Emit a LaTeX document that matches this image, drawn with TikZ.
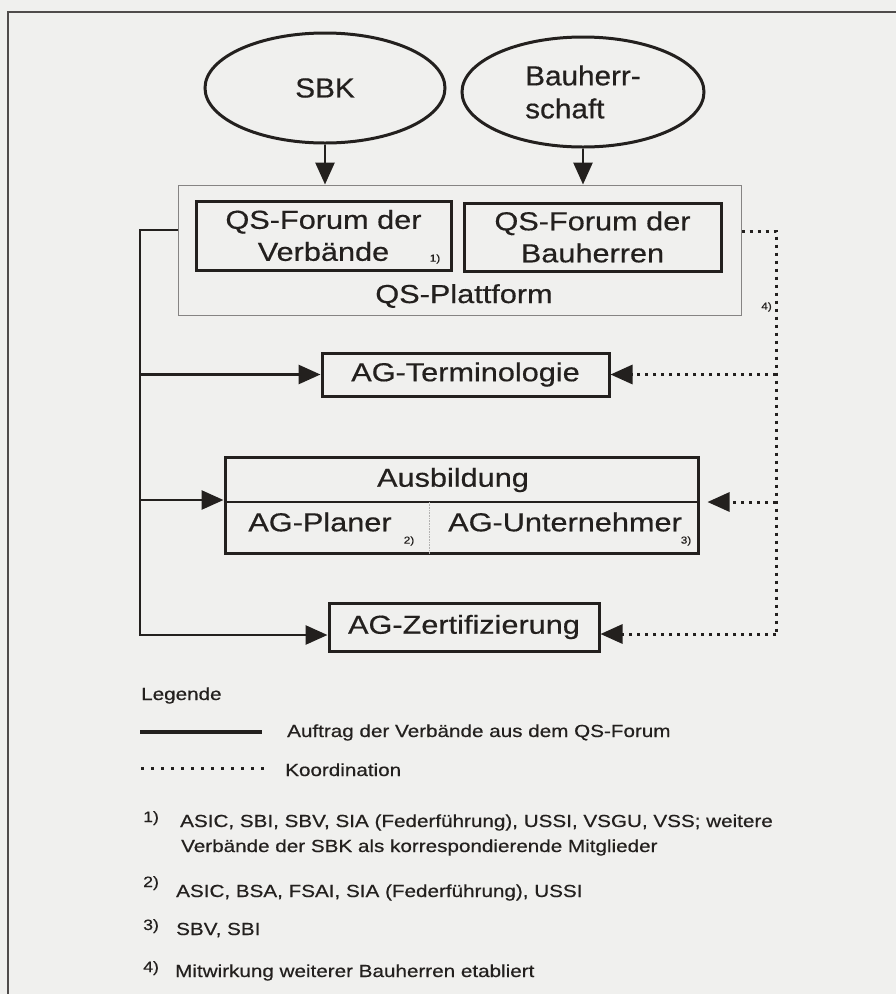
\documentclass[tikz,border=0pt]{standalone}
\usepackage{fontspec}
\setmainfont{Liberation Sans}[FakeStretch=1.18, FakeBold=0.5]
\newfontfamily\ovalfont{Liberation Sans}[FakeStretch=1.08, FakeBold=0.5]
\usetikzlibrary{arrows.meta,positioning,shapes.geometric,calc}
\definecolor{paper}{RGB}{240,240,238}
\definecolor{ink}{RGB}{35,32,30}

\begin{document}
\begin{tikzpicture}[
    x=1pt, y=-1pt,
    oval/.style={ellipse, draw=ink, line width=3pt, minimum width=240pt, minimum height=110pt, font=\ovalfont\fontsize{27.5}{33}\selectfont, text=ink},
    box/.style={rectangle, draw=ink, line width=3pt, font=\fontsize{26}{32}\selectfont, text=ink, align=center, inner sep=0pt},
    lbl/.style={font=\fontsize{26}{32}\selectfont, text=ink, inner sep=0pt},
    auftrag/.style={draw=ink, line width=2.8pt},
    koord/.style={draw=ink, line width=3pt, dash pattern=on 3pt off 5pt},
    legkoord/.style={draw=ink, line width=3pt, dash pattern=on 3pt off 7pt},
    tip/.style={-{Triangle[length=22pt,width=19pt]}},
    note/.style={font=\fontsize{10}{12}\selectfont, text=ink, inner sep=0pt},
    legtext/.style={font=\fontsize{17.5}{25}\selectfont, text=ink, anchor=base west, inner sep=0pt},
    fnnum/.style={font=\fontsize{15}{18}\selectfont, text=ink, anchor=base west, inner sep=0pt}
]
    % Paper and frame
    \fill[paper] (0,0) rectangle (896,994);
    \useasboundingbox (0,0) rectangle (896,994);
    \draw[ink!80, line width=1.3pt] (8,994) -- (8,12) -- (896,12);

    % Ellipses (top)
    \node[oval] (sbk) at (325,88) {SBK};
    \node[oval, align=left, minimum width=242pt] (bauherr) at (583,92) {Bauherr-\\schaft};

    % QS-Plattform with the two forums
    \node[draw=ink!55, line width=1pt, minimum width=563pt, minimum height=130pt, inner sep=0pt] (plattform) at (459.5,250) {};
    \node[box, minimum width=255pt, minimum height=69pt] (verb) at (323.5,235.5) {QS-Forum der\\Verbände};
    \node[box, minimum width=257pt, minimum height=68pt] (bauh) at (592.5,237) {QS-Forum der\\Bauherren};
    \node[lbl, anchor=base] (plattlabel) at (464,303) {QS-Plattform};
    \node[note] (fn1) at (435,259) {1)};

    \draw[auftrag, tip] (sbk.south) -- (sbk.south |- plattform.north);
    \draw[auftrag, tip] (bauherr.south) -- (bauherr.south |- plattform.north);

    % Arbeitsgruppen
    \node[box, minimum width=287pt, minimum height=43pt] (term) at (465.5,374.5) {AG-Terminologie};
    \node[box, minimum width=473pt, minimum height=96pt] (ausb) at (461.5,505) {};
    \node[lbl] (ausbtitle) at (453,480) {Ausbildung};
    \node[lbl] (planer) at (320,522) {AG-Planer};
    \node[lbl] (unter) at (565,522) {AG-Unternehmer};
    \node[note] (fn2) at (409,541) {2)};
    \node[note] (fn3) at (686,541) {3)};
    \node[box, minimum width=270pt, minimum height=48pt] (zert) at (464,627) {AG-Zertifizierung};

    \draw[ink, line width=1.6pt] ([yshift=3pt]ausb.west) -- ([yshift=3pt]ausb.east);
    \coordinate (divtop) at (429,502);
    \draw[ink!35, line width=0.6pt, densely dotted] (divtop) -- (divtop |- ausb.south);

    % Auftrag (solid)
    \coordinate (split) at (140,230);
    \coordinate (ausbin) at ([yshift=5pt]ausb.west);
    \coordinate (zertin) at ([yshift=-8pt]zert.west);
    \draw[auftrag, tip] (split -| plattform.west) -- (split) |- (zertin);
    \draw[auftrag, tip] (split |- term.west) -- (term.west);
    \draw[auftrag, tip] (split |- ausbin) -- (ausbin);

    % Koordination (dotted)
    \coordinate (kor) at (776,231);
    \coordinate (ausbk) at ([yshift=3pt,xshift=8pt]ausb.east);
    \coordinate (zertk) at ([yshift=-7pt]zert.east);
    \draw[koord] (kor -| plattform.east) -- (kor) -- (kor |- zertk);
    \draw[koord, tip] (kor |- term.east) -- (term.east);
    \draw[koord, tip] (kor |- ausbk) -- (ausbk);
    \draw[koord, tip] (kor |- zertk) -- (zertk);
    \node[note, anchor=east] (fn4) at (772,307) {4)};

    % Legende
    \node[legtext] (legende) at (141,700) {Legende};
    \coordinate (la) at (140,732);
    \coordinate (lb) at (262,732);
    \draw[auftrag, line width=3.4pt] (la) -- (lb);
    \node[legtext] (lauftrag) at (287,737) {Auftrag der Verbände aus dem QS-Forum};
    \coordinate (lc) at (141,768);
    \coordinate (ld) at (264,768);
    \draw[legkoord] (lc) -- (ld);
    \node[legtext] (lkoord) at (285,776) {Koordination};

    % Fussnoten
    \node[fnnum] (n1) at (143,822) {1)};
    \node[legtext] (t1a) at (180,827) {ASIC, SBI, SBV, SIA (Federführung), USSI, VSGU, VSS; weitere};
    \node[legtext] (t1b) at (181,852) {Verbände der SBK als korrespondierende Mitglieder};
    \node[fnnum] (n2) at (143,887) {2)};
    \node[legtext] (t2) at (176,897) {ASIC, BSA, FSAI, SIA (Federführung), USSI};
    \node[fnnum] (n3) at (143,930) {3)};
    \node[legtext] (t3) at (176,935) {SBV, SBI};
    \node[fnnum] (n4) at (143,972) {4)};
    \node[legtext] (t4) at (175,977) {Mitwirkung weiterer Bauherren etabliert};
\end{tikzpicture}
\end{document}
